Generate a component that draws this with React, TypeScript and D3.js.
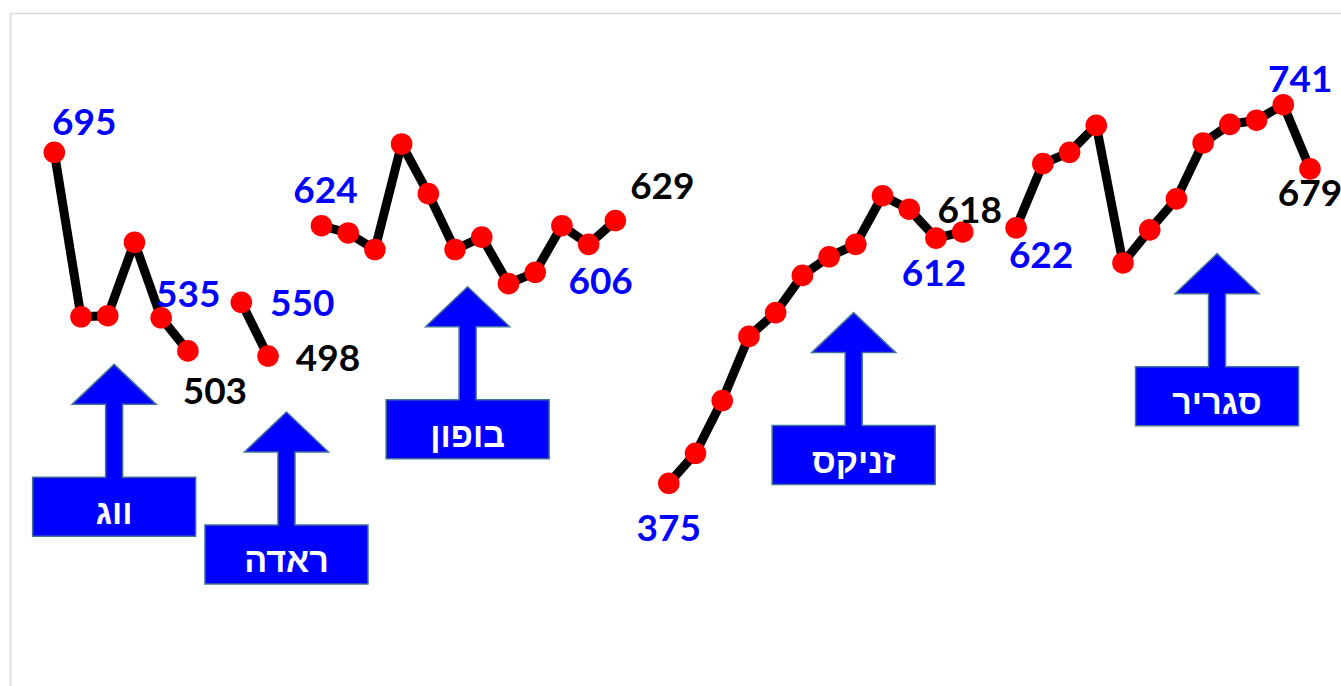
import * as d3 from "d3";

// values per group; groups are separated by one empty slot
const vagValues = [695, 536, 537, 608, 535, 503];
const radaValues = [550, 498];
const bufonValues = [624, 617, 601, 703, 655, 601, 613, 568, 579, 624, 606, 629];
const zinikesValues = [375, 404, 455, 517, 540, 576, 594, 606, 653, 640, 612, 618];
const sagrirValues = [622, 684, 695, 721, 588, 620, 650, 704, 722, 726, 741, 679];

const groups = [
  { name: "ווג", values: vagValues },
  { name: "ראדה", values: radaValues },
  { name: "בופון", values: bufonValues },
  { name: "זניקס", values: zinikesValues },
  { name: "סגריר", values: sagrirValues },
];

// flatten with a null gap between groups
const series: (number | null)[] = groups.flatMap((g, i) =>
  i < groups.length - 1 ? [...g.values, null] : g.values
);

// callout arrows: anchor slot (fractional) and tip value in data space
const arrowSlots = [2.24, 8.69, 15.47, 29.92, 43.52];
const arrowTips = [490, 444, 565, 540, 597];

// data labels: slot index, colour and offset from the point
const BLUE = "#0000FF";
const labels = [
  { i: 0, color: BLUE, dx: 30, dy: -17 },
  { i: 4, color: BLUE, dx: 27, dy: -11 },
  { i: 5, color: "#000", dx: 27, dy: 53 },
  { i: 7, color: BLUE, dx: 61, dy: 14 },
  { i: 8, color: "#000", dx: 60, dy: 15 },
  { i: 10, color: BLUE, dx: 4, dy: -23 },
  { i: 20, color: BLUE, dx: 12, dy: 50 },
  { i: 21, color: "#000", dx: 47, dy: -22 },
  { i: 23, color: BLUE, dx: 0, dy: 58 },
  { i: 33, color: BLUE, dx: -2, dy: 48 },
  { i: 34, color: "#000", dx: 7, dy: -9 },
  { i: 36, color: BLUE, dx: 25, dy: 40 },
  { i: 46, color: BLUE, dx: 17, dy: -13 },
  { i: 47, color: "#000", dx: 0, dy: 37 },
];

const W = 1341;
const H = 686;

const xScale = d3.scaleLinear().domain([0, series.length - 1]).range([54.3, 1310]);
const yScale = d3.scaleLinear().domain([375, 741]).range([483.3, 104.7]);

const line = d3
  .line<number | null>()
  .defined((d) => d != null)
  .x((_, i) => xScale(i))
  .y((d) => yScale(d as number));

function arrowPath(cx: number, tip: number) {
  const headH = 40, headW = 84, shaftW = 17, stem = 113, boxW = 163, boxH = 59;
  const p = d3.path();
  p.moveTo(cx, tip);
  p.lineTo(cx + headW / 2, tip + headH);
  p.lineTo(cx + shaftW / 2, tip + headH);
  p.lineTo(cx + shaftW / 2, tip + stem);
  p.lineTo(cx + boxW / 2, tip + stem);
  p.lineTo(cx + boxW / 2, tip + stem + boxH);
  p.lineTo(cx - boxW / 2, tip + stem + boxH);
  p.lineTo(cx - boxW / 2, tip + stem);
  p.lineTo(cx - shaftW / 2, tip + stem);
  p.lineTo(cx - shaftW / 2, tip + headH);
  p.lineTo(cx - headW / 2, tip + headH);
  p.closePath();
  return p.toString();
}

export default function App() {
  return (
    <svg
      width={W}
      height={H}
      style={{ position: "absolute", left: 0, top: 0, background: "#fff" }}
    >
      <rect x={10.5} y={13.5} width={1400} height={800} fill="none" stroke="#d9d9d9" strokeWidth={1.5} />

      {/* callouts */}
      {groups.map((g, k) => {
        const cx = xScale(arrowSlots[k]);
        const tip = yScale(arrowTips[k]);
        return (
          <g key={`arrow-${k}`}>
            <path d={arrowPath(cx, tip)} fill="#0000FF" stroke="#41719C" strokeWidth={1.5} />
            <text
              x={cx}
              y={tip + 113 + 47}
              textAnchor="middle"
              fill="#fff"
              fontFamily="'Liberation Sans', Arial, sans-serif"
              fontWeight="bold"
              fontSize={34}
            >
              {g.name}
            </text>
          </g>
        );
      })}

      {/* line */}
      <path d={line(series) ?? ""} fill="none" stroke="#000" strokeWidth={9} strokeLinejoin="round" />

      {/* points */}
      {series.map((v, i) =>
        v == null ? null : (
          <circle key={`pt-${i}`} cx={xScale(i)} cy={yScale(v)} r={10.8} fill="#FF0000" />
        )
      )}

      {/* data labels */}
      {labels.map((l) => {
        const v = series[l.i] as number;
        return (
          <text
            key={`lbl-${l.i}`}
            x={xScale(l.i) + l.dx}
            y={yScale(v) + l.dy}
            textAnchor="middle"
            fill={l.color}
            fontFamily="Lato, 'Open Sans', sans-serif"
            fontWeight="bold"
            fontSize={37}
          >
            {v}
          </text>
        );
      })}
    </svg>
  );
}
